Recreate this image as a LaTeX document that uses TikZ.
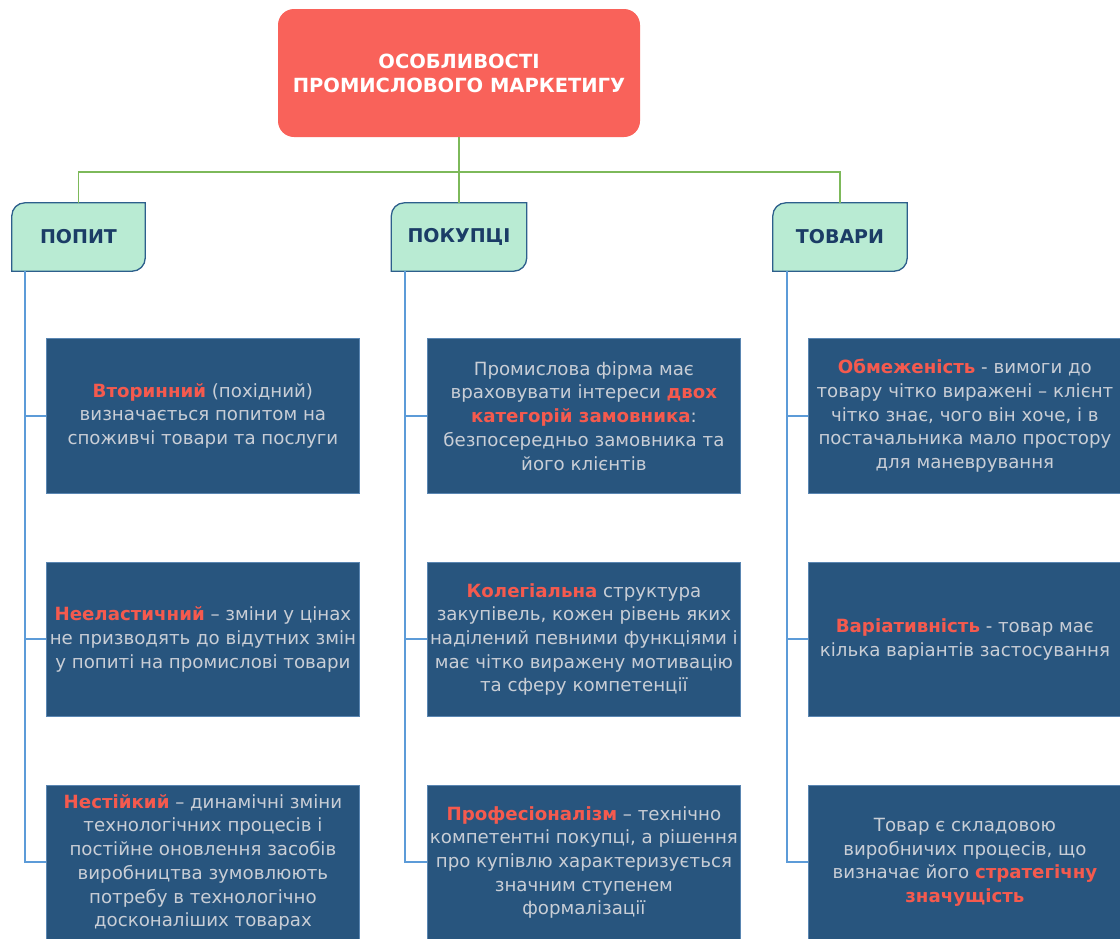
\documentclass[tikz,border=0pt]{standalone}
\usepackage{fontspec}
\setmainfont{DejaVu Sans}
\usetikzlibrary{calc}
\pgfdeclarelayer{background}
\pgfsetlayers{background,main}
\definecolor{titlered}{HTML}{F9625A}
\definecolor{catfill}{HTML}{B9EBD3}
\definecolor{catedge}{HTML}{2D5F8C}
\definecolor{cattext}{HTML}{1B3C66}
\definecolor{boxblue}{HTML}{28557E}
\definecolor{boxedge}{HTML}{5A86B2}
\definecolor{txtgray}{HTML}{C9CED6}
\definecolor{hl}{HTML}{F55A4E}
\definecolor{greenline}{HTML}{7DB95A}
\definecolor{blueline}{HTML}{5C9BD8}
\newcommand{\hlt}[1]{\textcolor{hl}{\textbf{#1}}}
\begin{document}
\begin{tikzpicture}[x=1pt,y=-1pt,
  titlebox/.style={fill=titlered, rounded corners=16pt, minimum width=362pt, minimum height=128pt, inner sep=0pt, text=white, align=center, font=\bfseries\fontsize{19.5}{24}\selectfont},
  catbox/.style={minimum height=68pt, inner sep=0pt, text=cattext, font=\bfseries\fontsize{19}{22}\selectfont},
  catshape/.style={fill=catfill, draw=catedge, line width=1.3pt},
  content/.style={fill=boxblue, draw=boxedge, line width=0.8pt, minimum width=313pt, inner sep=0pt, anchor=north west, text=txtgray, align=center, font=\fontsize{18.2}{23.7}\selectfont},
  gline/.style={draw=greenline, line width=1.4pt},
  bline/.style={draw=blueline, line width=2.1pt}
]
\useasboundingbox (0,0) rectangle (1120,938);
\clip (0,0) rectangle (1120,938);

% title
\node[titlebox] (title) at (459,73) {ОСОБЛИВОСТІ\\ПРОМИСЛОВОГО МАРКЕТИГУ};

% categories
\node[catbox, minimum width=133pt] (popit) at (78.5,237) {ПОПИТ};
\node[catbox, minimum width=135pt] (pokup) at (459,237) {ПОКУПЦІ};
\node[catbox, minimum width=134pt] (tovary) at (840,237) {ТОВАРИ};

\begin{pgfonlayer}{background}
\foreach \n in {popit,pokup,tovary}{
  \draw[catshape] (\n.south west) -- ($(\n.north west)+(0,13)$)
    .. controls ($(\n.north west)+(0,5.8)$) and ($(\n.north west)+(5.8,0)$) .. ($(\n.north west)+(13,0)$)
    -- (\n.north east) -- ($(\n.south east)+(0,-13)$)
    .. controls ($(\n.south east)+(0,-5.8)$) and ($(\n.south east)+(-5.8,0)$) .. ($(\n.south east)+(-13,0)$)
    -- cycle;
}
\end{pgfonlayer}

% green connectors
\coordinate (hub) at (459,172);
\draw[gline] (title.south) -- (pokup.north);
\draw[gline] (popit.north) |- (hub) -| (tovary.north);

% content boxes: ПОПИТ
\node[content, minimum height=155pt] (p1) at (46,338) {\hlt{Вторинний} (похідний)\\визначається попитом на\\споживчі товари та послуги};
\node[content, minimum height=154pt] (p2) at (46,562) {\hlt{Нееластичний} – зміни у цінах\\не призводять до відутних змін\\у попиті на промислові товари};
\node[content, minimum height=154pt] (p3) at (46,785) {\hlt{Нестійкий} – динамічні зміни\\технологічних процесів і\\постійне оновлення засобів\\виробництва зумовлюють\\потребу в технологічно\\досконаліших товарах};

% ПОКУПЦІ
\node[content, minimum height=155pt] (k1) at (427,338) {Промислова фірма має\\враховувати інтереси \hlt{двох}\\\hlt{категорій замовника}:\\безпосередньо замовника та\\його клієнтів};
\node[content, minimum height=154pt] (k2) at (427,562) {\hlt{Колегіальна} структура\\закупівель, кожен рівень яких\\наділений певними функціями і\\має чітко виражену мотивацію\\та сферу компетенції};
\node[content, minimum height=154pt] (k3) at (427,785) {\hlt{Професіоналізм} – технічно\\компетентні покупці, а рішення\\про купівлю характеризується\\значним ступенем\\формалізації};

% ТОВАРИ
\node[content, minimum height=155pt] (t1) at (808,338) {\hlt{Обмеженість} - вимоги до\\товару чітко виражені – клієнт\\чітко знає, чого він хоче, і в\\постачальника мало простору\\для маневрування};
\node[content, minimum height=154pt] (t2) at (808,562) {\hlt{Варіативність} - товар має\\кілька варіантів застосування};
\node[content, minimum height=154pt] (t3) at (808,785) {Товар є складовою\\виробничих процесів, що\\визначає його \hlt{стратегічну}\\\hlt{значущість}};

% blue connectors
\coordinate (pa) at ([xshift=13pt]popit.south west);
\coordinate (ka) at ([xshift=14pt]pokup.south west);
\coordinate (ta) at ([xshift=14pt]tovary.south west);
\foreach \c in {p1,p2,p3}{\draw[bline] (pa) |- (\c.west);}
\foreach \c in {k1,k2,k3}{\draw[bline] (ka) |- (\c.west);}
\foreach \c in {t1,t2,t3}{\draw[bline] (ta) |- (\c.west);}
\end{tikzpicture}
\end{document}
